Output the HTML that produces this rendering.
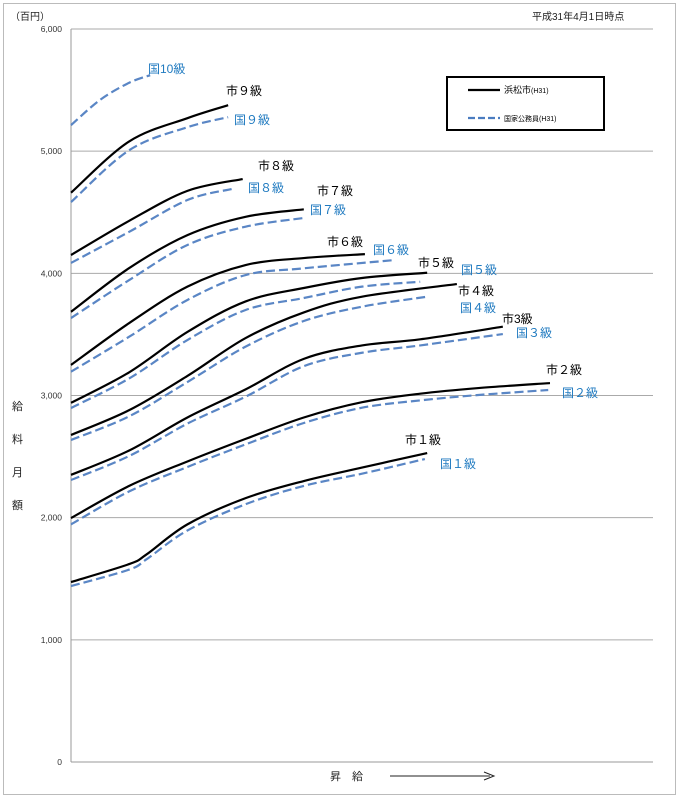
<!DOCTYPE html>
<html><head><meta charset="utf-8"><style>
body{margin:0;background:#fff;font-family:"Liberation Sans","Noto Sans CJK JP",sans-serif}
svg text{font-family:"Liberation Sans","Noto Sans CJK JP",sans-serif}
</style></head><body>
<svg id="c" width="681" height="800" xmlns="http://www.w3.org/2000/svg">
<rect x="3.5" y="3.5" width="672" height="791" fill="#fff" stroke="#bbb"/>
<text x="10" y="20" font-size="10" fill="#222">（百円）</text>
<text x="532" y="20" font-size="10" fill="#222">平成31年4月1日時点</text>
<g id="grid"></g><g id="ylabels"></g><g id="series"></g>
<g font-size="11" fill="#222">
<text x="12" y="410">給</text><text x="12" y="443">料</text><text x="12" y="476">月</text><text x="12" y="509">額</text></g>
<text x="330" y="780" font-size="11" fill="#222">昇　給</text>
<line x1="390" y1="776" x2="490" y2="776" stroke="#222" stroke-width="1"/>
<path d="M484,772 L494,776 L484,780" fill="none" stroke="#222"/>
<g>
<rect x="447" y="77" width="157" height="53" fill="#fff" stroke="#000" stroke-width="2"/>
<line x1="468" y1="90" x2="500" y2="90" stroke="#000" stroke-width="2.2"/>
<text x="504" y="93" font-size="9">浜松市<tspan font-size="7">(H31)</tspan></text>
<line x1="468" y1="118" x2="500" y2="118" stroke="#4a7cc0" stroke-width="2.2" stroke-dasharray="7,3"/>
<text x="504" y="121" font-size="7">国家公務員(H31)</text>
</g>
<g id="labels" font-size="12"></g>
</svg>
<script>
const yTicks=[0,1000,2000,3000,4000,5000,6000];
const yTickLabels=["0","1,000","2,000","3,000","4,000","5,000","6,000"];
// steps (昇給 position) and values (百円)
const city1Steps=[0,10,13,20,30,40,50,61.2];const city1=[1473,1620,1700,1945,2160,2300,2410,2529];
const nat1Steps=[0,10,13,20,30,40,50,60.8];const nat1=[1440,1575,1660,1895,2110,2260,2360,2480];
const city2Steps=[0,10,20,30,40,50,60,70,82.3];const city2=[1997,2260,2460,2645,2820,2945,3015,3061,3102];
const nat2Steps=[0,10,20,30,40,50,60,70,82];const nat2=[1945,2215,2415,2600,2775,2900,2960,3004,3045];
const city3Steps=[0,10,20,30,40,50,60,74.2];const city3=[2350,2550,2820,3050,3300,3410,3460,3563];
const nat3Steps=[0,10,20,30,40,50,60,74.2];const nat3=[2308,2505,2770,2990,3240,3350,3410,3503];
const city4Steps=[0,10,20,30,40,50,66.3];const city4=[2677,2880,3160,3470,3680,3809,3912];
const nat4Steps=[0,10,20,30,40,50,61.2];const nat4=[2636,2830,3110,3400,3610,3727,3809];
const city5Steps=[0,10,20,30,40,50,61.2];const city5=[2940,3190,3520,3770,3880,3962,4005];
const nat5Steps=[0,10,20,30,40,50,60];const nat5=[2898,3140,3454,3700,3798,3891,3931];
const city6Steps=[0,10,20,30,40,50.5];const city6=[3250,3593,3891,4068,4125,4157];
const nat6Steps=[0,10,20,30,40,55.7];const nat6=[3195,3481,3782,3986,4041,4109];
const city7Steps=[0,10,20,30,40];const city7=[3685,4043,4313,4463,4524];
const nat7Steps=[0,10,20,30,40];const nat7=[3634,3945,4232,4382,4453];
const city8Steps=[0,10,20,29.5];const city8=[4150,4430,4675,4772];
const nat8Steps=[0,10,20,27.6];const nat8=[4085,4340,4600,4690];
const city9Steps=[0,10,20,27];const city9=[4660,5080,5270,5376];
const nat9Steps=[0,10,20,27];const nat9=[4583,5008,5196,5278];
const nat10Steps=[0,5,10,13.6];const nat10=[5213,5420,5560,5622];
const seriesList=[
["city",city1Steps,city1],["national",nat1Steps,nat1],["city",city2Steps,city2],["national",nat2Steps,nat2],
["city",city3Steps,city3],["national",nat3Steps,nat3],["city",city4Steps,city4],["national",nat4Steps,nat4],
["city",city5Steps,city5],["national",nat5Steps,nat5],["city",city6Steps,city6],["national",nat6Steps,nat6],
["city",city7Steps,city7],["national",nat7Steps,nat7],["city",city8Steps,city8],["national",nat8Steps,nat8],
["city",city9Steps,city9],["national",nat9Steps,nat9],["national",nat10Steps,nat10]];
const labelTexts=["市１級","国１級","市２級","国２級","市3級","国３級","市４級","国４級","市５級","国５級","市６級","国６級","市７級","国７級","市８級","国８級","市９級","国９級","国10級"];
const labelPos=[[405,444],[440,468],[546,374],[562,397],[502,323],[516,337],[458,295],[460,312],[418,267],[461,274],[327,246],[373,254],[317,195],[310,214],[258,170],[248,192],[226,95],[234,124],[148,73]];
const NS="http://www.w3.org/2000/svg";
const X0=71,X1=653,Y0=762,Y1=29;
const xs=s=>X0+s*5.82;
const ys=v=>Y0-v*(Y0-Y1)/6000;
const grid=document.getElementById('grid'),yl=document.getElementById('ylabels');
yTicks.forEach((t,i)=>{
 const l=document.createElementNS(NS,'line');
 l.setAttribute('x1',X0);l.setAttribute('x2',X1);l.setAttribute('y1',ys(t));l.setAttribute('y2',ys(t));
 l.setAttribute('stroke',i==0?'#999':'#aaa');
 
 
 grid.appendChild(l);
 const tx=document.createElementNS(NS,'text');
 tx.setAttribute('x',62);tx.setAttribute('y',ys(t)+3);tx.setAttribute('text-anchor','end');tx.setAttribute('font-size','8.5');tx.setAttribute('fill','#333');
 tx.textContent=yTickLabels[i];
 
 
 yl.appendChild(tx);
});
const ax=document.createElementNS(NS,'line');
ax.setAttribute('x1',X0);ax.setAttribute('x2',X0);ax.setAttribute('y1',Y1);ax.setAttribute('y2',Y0);ax.setAttribute('stroke','#999');


grid.appendChild(ax);
function pathFor(st,vals){
 const pts=vals.map((v,i)=>[xs(st[i]),ys(v)]);
 let d='M'+pts[0][0]+','+pts[0][1];
 for(let i=0;i<pts.length-1;i++){
  const p0=pts[Math.max(0,i-1)],p1=pts[i],p2=pts[i+1],p3=pts[Math.min(pts.length-1,i+2)];
  const c1=[p1[0]+(p2[0]-p0[0])/6,p1[1]+(p2[1]-p0[1])/6],c2=[p2[0]-(p3[0]-p1[0])/6,p2[1]-(p3[1]-p1[1])/6];
  d+=` C${c1[0]},${c1[1]} ${c2[0]},${c2[1]} ${p2[0]},${p2[1]}`;
 }
 return d;
}
const sg=document.getElementById('series');
seriesList.forEach((s,i)=>{
 const p=document.createElementNS(NS,'path');
 p.setAttribute('d',pathFor(s[1],s[2]));p.setAttribute('fill','none');
 if(s[0]=='city'){p.setAttribute('stroke','#000');p.setAttribute('stroke-width','2.2');}
 else{p.setAttribute('stroke','#5a86c5');p.setAttribute('stroke-width','2.2');p.setAttribute('stroke-dasharray','9,4');}
 
 
 sg.appendChild(p);
});
const lg=document.getElementById('labels');
labelTexts.forEach((t,i)=>{
 const tx=document.createElementNS(NS,'text');
 tx.setAttribute('x',labelPos[i][0]);tx.setAttribute('y',labelPos[i][1]);
 tx.setAttribute('fill',t[0]=='国'?'#1f7ac0':'#000');
 tx.textContent=t;
 
 
 lg.appendChild(tx);
});
</script>
</body></html>
